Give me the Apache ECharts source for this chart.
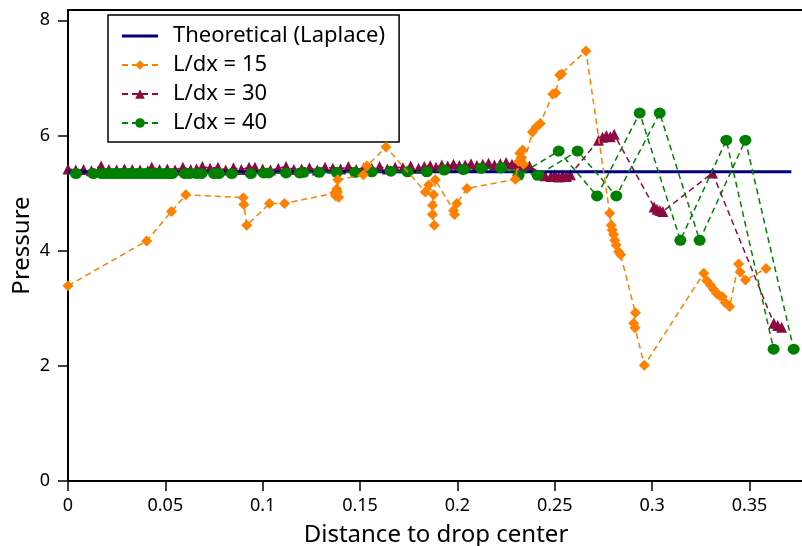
<!DOCTYPE html>
<html>
<head>
<meta charset="utf-8">
<script src="https://cdn.jsdelivr.net/npm/echarts@6/dist/echarts.min.js"></script>
<style>
  html, body { margin: 0; padding: 0; background: #fff; }
  #chart { width: 802px; height: 546px; }
</style>
</head>
<body>
<div id="chart"></div>
<script>
  // tick positions
  const xTicks = [0, 0.05, 0.1, 0.15, 0.2, 0.25, 0.3, 0.35];
  const yTicks = [0, 2, 4, 6, 8];

  // theoretical pressure (Laplace law)
  const theory = [[0, 5.37], [0.3715, 5.37]];

  // L/dx = 15
  const dx15 = [
    [0.000, 3.39], [0.0404, 4.17], [0.0531, 4.68], [0.0605, 4.97], [0.0900, 4.92],
    [0.0903, 4.80], [0.0918, 4.44], [0.1035, 4.82], [0.1112, 4.82], [0.1370, 5.00],
    [0.1375, 4.95], [0.1380, 5.07], [0.1384, 5.02], [0.1390, 4.93], [0.1385, 5.23],
    [0.1517, 5.32], [0.1535, 5.47], [0.1633, 5.80], [0.1835, 5.02], [0.1852, 5.14],
    [0.1877, 4.97], [0.1872, 4.79], [0.1872, 4.63], [0.1881, 4.44], [0.1886, 5.23],
    [0.1980, 4.70], [0.1985, 4.63], [0.1997, 4.82], [0.2049, 5.08], [0.2297, 5.24],
    [0.2315, 5.55], [0.2320, 5.69], [0.2328, 5.62], [0.2335, 5.75], [0.2340, 5.50],
    [0.2385, 6.06], [0.2405, 6.15], [0.2425, 6.21], [0.2490, 6.72], [0.2505, 6.74],
    [0.2525, 7.05], [0.2535, 7.07], [0.2660, 7.47], [0.2782, 4.65], [0.2790, 4.44],
    [0.2795, 4.36], [0.2802, 4.28], [0.2808, 4.18], [0.2815, 4.10], [0.2828, 3.98],
    [0.2838, 3.93], [0.2914, 2.92], [0.2905, 2.74], [0.2912, 2.66], [0.2960, 2.01],
    [0.3265, 3.61], [0.3280, 3.48], [0.3300, 3.40], [0.3315, 3.33], [0.3330, 3.26],
    [0.3345, 3.22], [0.3360, 3.20], [0.3375, 3.10], [0.3398, 3.03], [0.3444, 3.77],
    [0.3452, 3.63], [0.3479, 3.49], [0.3585, 3.69]
  ];

  // L/dx = 30
  const dx30 = [
    [0.000, 5.42], [0.004, 5.40], [0.008, 5.41], [0.012, 5.39], [0.017, 5.47],
    [0.021, 5.41], [0.025, 5.40], [0.029, 5.42], [0.033, 5.41], [0.037, 5.40],
    [0.041, 5.39], [0.043, 5.45], [0.047, 5.41], [0.051, 5.42], [0.055, 5.40],
    [0.059, 5.45], [0.063, 5.41], [0.066, 5.42], [0.069, 5.46], [0.073, 5.43],
    [0.077, 5.45], [0.081, 5.40], [0.085, 5.44], [0.089, 5.41], [0.093, 5.45],
    [0.096, 5.45], [0.100, 5.42], [0.104, 5.40], [0.108, 5.43], [0.112, 5.46],
    [0.116, 5.41], [0.120, 5.42], [0.124, 5.44], [0.128, 5.40], [0.132, 5.45],
    [0.136, 5.43], [0.140, 5.42], [0.144, 5.46], [0.148, 5.41], [0.152, 5.44],
    [0.156, 5.43], [0.160, 5.46], [0.164, 5.42], [0.168, 5.45], [0.172, 5.44],
    [0.176, 5.47], [0.180, 5.43], [0.183, 5.46], [0.186, 5.48], [0.189, 5.45],
    [0.192, 5.49], [0.195, 5.47], [0.198, 5.50], [0.201, 5.48], [0.204, 5.49],
    [0.207, 5.51], [0.210, 5.48], [0.213, 5.50], [0.216, 5.52], [0.219, 5.49],
    [0.222, 5.51], [0.225, 5.53], [0.228, 5.50], [0.231, 5.52], [0.234, 5.49],
    [0.237, 5.47], [0.245, 5.30], [0.248, 5.29], [0.250, 5.32], [0.252, 5.28],
    [0.254, 5.31], [0.256, 5.29], [0.258, 5.32], [0.2725, 5.92], [0.2745, 5.97],
    [0.2765, 6.00], [0.2785, 5.98], [0.2805, 6.02], [0.3010, 4.76], [0.3025, 4.72],
    [0.3040, 4.70], [0.3055, 4.68], [0.3310, 5.35], [0.3625, 2.74], [0.3645, 2.70],
    [0.3665, 2.67]
  ];

  // L/dx = 40, two interleaved chains
  const dx40a = [
    [0.0041, 5.34], [0.0130, 5.34], [0.0173, 5.34], [0.0195, 5.34], [0.0215, 5.34],
    [0.0235, 5.34], [0.0255, 5.34], [0.0275, 5.34], [0.0295, 5.34], [0.0315, 5.34],
    [0.0335, 5.34], [0.0355, 5.34], [0.0375, 5.34], [0.0395, 5.34], [0.0415, 5.34],
    [0.0435, 5.34], [0.0455, 5.34], [0.0475, 5.34], [0.0495, 5.34], [0.0515, 5.34],
    [0.0535, 5.34], [0.0600, 5.34], [0.0625, 5.34], [0.0660, 5.34], [0.0685, 5.34],
    [0.0750, 5.34], [0.0775, 5.34], [0.0841, 5.34], [0.0939, 5.34], [0.1005, 5.35],
    [0.1030, 5.35], [0.1120, 5.35], [0.1190, 5.35], [0.1210, 5.36], [0.1290, 5.36],
    [0.1380, 5.36], [0.1475, 5.36], [0.1560, 5.37], [0.1658, 5.38], [0.1744, 5.37],
    [0.1843, 5.37], [0.1932, 5.40], [0.2031, 5.41], [0.2122, 5.43], [0.2224, 5.44],
    [0.2314, 5.31], [0.2520, 5.73], [0.2717, 4.95], [0.2936, 6.39], [0.3145, 4.18],
    [0.3381, 5.92], [0.3624, 2.29]
  ];
  const dx40b = [
    [0.2224, 5.44], [0.2412, 5.31], [0.2617, 5.73], [0.2816, 4.95], [0.3039, 6.39],
    [0.3244, 4.18], [0.3479, 5.92], [0.3727, 2.29]
  ];

  const font = 'Noto Sans';
  const green = '#008000';
  // legend icon for the solid theory line: thin bar in a 36x12 box
  const barIcon = 'path://M0,0h0.01v0.01h-0.01z M35.99,11.99h0.01v0.01h-0.01z M0,4.5h36v3h-36z';

  var myChart = echarts.init(document.getElementById('chart'));
  myChart.setOption({
    animation: false,
    textStyle: { fontFamily: font, color: '#000' },
    grid: {
      left: 68, right: -2, top: 10, bottom: 65,
      outerBoundsMode: 'none',
      show: true, borderColor: '#000', borderWidth: 2
    },
    legend: {
      orient: 'vertical',
      left: 108, top: 15,
      padding: [9, 14, 7, 13],
      itemWidth: 36, itemHeight: 12, itemGap: 5,
      backgroundColor: '#fff',
      borderColor: '#000', borderWidth: 1.5,
      textStyle: { fontSize: 22, lineHeight: 24, fontFamily: font, color: '#000', padding: [0, 0, 0, 10] },
      data: [
        { name: 'Theoretical (Laplace)', icon: barIcon },
        'L/dx = 15', 'L/dx = 30', 'L/dx = 40'
      ]
    },
    xAxis: {
      type: 'value', min: 0, max: 0.378,
      name: 'Distance to drop center', nameLocation: 'middle', nameGap: 42,
      nameTextStyle: { fontSize: 24, fontFamily: font, color: '#000' },
      axisLine: { lineStyle: { color: '#000', width: 2 } },
      axisTick: { customValues: xTicks, length: 10, lineStyle: { color: '#000', width: 1.5 } },
      axisLabel: { customValues: xTicks, fontSize: 18, margin: 16, color: '#000' },
      splitLine: { show: false }
    },
    yAxis: {
      type: 'value', min: 0, max: 8.18,
      name: 'Pressure', nameLocation: 'middle', nameGap: 34, nameMoveOverlap: false,
      nameTextStyle: { fontSize: 24, fontFamily: font, color: '#000' },
      axisLine: { show: true, lineStyle: { color: '#000', width: 2 } },
      axisTick: { show: true, customValues: yTicks, length: 10, lineStyle: { color: '#000', width: 1.5 } },
      axisLabel: { customValues: yTicks, fontSize: 18, margin: 18, color: '#000' },
      splitLine: { show: false }
    },
    series: [
      {
        name: 'L/dx = 30', type: 'line', data: dx30, z: 2,
        symbol: 'triangle', symbolSize: 11,
        itemStyle: { color: '#8B0A40' },
        lineStyle: { color: '#8B0A40', width: 1.5, type: [6, 4] }
      },
      {
        name: 'Theoretical (Laplace)', type: 'line', data: theory, z: 3,
        symbol: 'none',
        itemStyle: { color: '#000080' },
        lineStyle: { color: '#000080', width: 3 }
      },
      {
        name: 'L/dx = 40', type: 'line', data: dx40a, z: 4,
        symbol: 'circle', symbolSize: [12, 11],
        itemStyle: { color: green },
        lineStyle: { color: green, width: 1.5, type: [6, 4] }
      },
      {
        name: 'L/dx = 40', type: 'line', data: dx40b, z: 4,
        symbol: 'circle', symbolSize: [12, 11],
        itemStyle: { color: green },
        lineStyle: { color: green, width: 1.5, type: [6, 4] }
      },
      {
        name: 'L/dx = 15', type: 'line', data: dx15, z: 5,
        symbol: 'diamond', symbolSize: 11,
        itemStyle: { color: '#FF8000' },
        lineStyle: { color: '#FF8000', width: 1.5, type: [6, 4] }
      }
    ]
  });
</script>
</body>
</html>
